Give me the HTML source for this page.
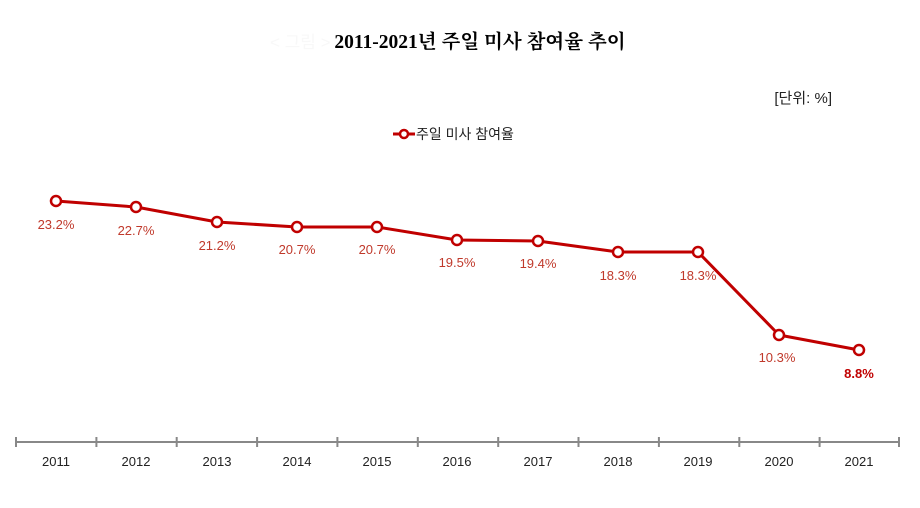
<!DOCTYPE html>
<html><head><meta charset="utf-8"><style>
body{margin:0;background:#fff;width:920px;height:503px;overflow:hidden}
</style></head><body>
<svg width="920" height="503" xmlns="http://www.w3.org/2000/svg">
<text x="480" y="48" text-anchor="middle" font-family="'Liberation Serif','Noto Serif CJK SC',serif" font-size="19.5" font-weight="bold" fill="#000">2011-2021년 주일 미사 참여율 추이</text>
<text x="270" y="48" font-family="'Liberation Sans','Noto Sans CJK KR',sans-serif" font-size="17" fill="#f8f8f8">&lt; 그림 &gt;</text>
<text x="832" y="103" text-anchor="end" font-family="'Liberation Sans','Noto Sans CJK KR',sans-serif" font-size="15" fill="#222">[단위: %]</text>
<line x1="393" y1="134" x2="415" y2="134" stroke="#c00000" stroke-width="3"/>
<circle cx="404" cy="134" r="4" fill="#fff" stroke="#c00000" stroke-width="2.5"/>
<text x="416" y="139" font-family="'Liberation Sans','Noto Sans CJK KR',sans-serif" font-size="14" fill="#222">주일 미사 참여율</text>
<g stroke="#888" stroke-width="2">
<line x1="16" y1="442" x2="900" y2="442"/>
<line x1="16" y1="437" x2="16" y2="447"/><line x1="96.4" y1="437" x2="96.4" y2="447"/><line x1="176.7" y1="437" x2="176.7" y2="447"/><line x1="257.1" y1="437" x2="257.1" y2="447"/><line x1="337.4" y1="437" x2="337.4" y2="447"/><line x1="417.8" y1="437" x2="417.8" y2="447"/><line x1="498.2" y1="437" x2="498.2" y2="447"/><line x1="578.5" y1="437" x2="578.5" y2="447"/><line x1="658.9" y1="437" x2="658.9" y2="447"/><line x1="739.3" y1="437" x2="739.3" y2="447"/><line x1="819.6" y1="437" x2="819.6" y2="447"/><line x1="899" y1="437" x2="899" y2="447"/>
</g>
<g font-family="'Liberation Sans',sans-serif" font-size="13" fill="#222" text-anchor="middle">
<text x="56" y="466">2011</text><text x="136" y="466">2012</text><text x="217" y="466">2013</text><text x="297" y="466">2014</text><text x="377" y="466">2015</text><text x="457" y="466">2016</text><text x="538" y="466">2017</text><text x="618" y="466">2018</text><text x="698" y="466">2019</text><text x="779" y="466">2020</text><text x="859" y="466">2021</text>
</g>
<polyline fill="none" stroke="#c00000" stroke-width="3" stroke-linejoin="round" points="56,201 136,207 217,222 297,227 377,227 457,240 538,241 618,252 698,252 779,335 859,350"/>
<g fill="#fff" stroke="#c00000" stroke-width="2.5">
<circle cx="56" cy="201" r="5"/><circle cx="136" cy="207" r="5"/><circle cx="217" cy="222" r="5"/><circle cx="297" cy="227" r="5"/><circle cx="377" cy="227" r="5"/><circle cx="457" cy="240" r="5"/><circle cx="538" cy="241" r="5"/><circle cx="618" cy="252" r="5"/><circle cx="698" cy="252" r="5"/><circle cx="779" cy="335" r="5"/><circle cx="859" cy="350" r="5"/>
</g>
<g font-family="'Liberation Sans',sans-serif" font-size="13" fill="#c0392b" text-anchor="middle">
<text x="56" y="229">23.2%</text><text x="136" y="235">22.7%</text><text x="217" y="250">21.2%</text><text x="297" y="254">20.7%</text><text x="377" y="254">20.7%</text><text x="457" y="267">19.5%</text><text x="538" y="268">19.4%</text><text x="618" y="280">18.3%</text><text x="698" y="280">18.3%</text><text x="777" y="362">10.3%</text>
<text x="859" y="378" font-weight="bold" fill="#c00000">8.8%</text>
</g>
</svg>
</body></html>
